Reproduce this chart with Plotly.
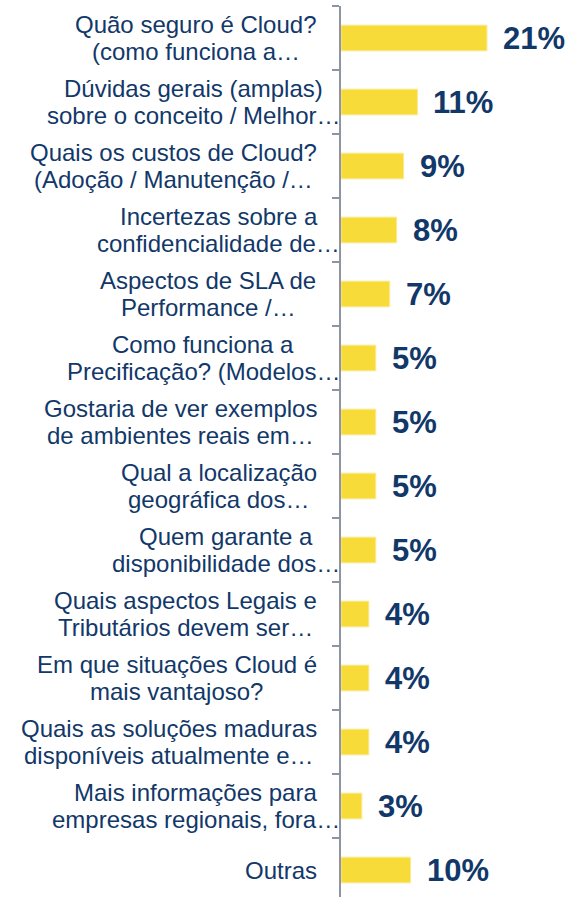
import unicodedata
import plotly.graph_objects as go

# ---------------- data ----------------
categories = [
    "Quão seguro é Cloud?<br>(como funciona a…",
    "Dúvidas gerais (amplas)<br>sobre o conceito / Melhor…",
    "Quais os custos de Cloud?<br>(Adoção / Manutenção /…",
    "Incertezas sobre a<br>confidencialidade de…",
    "Aspectos de SLA de<br>Performance /…",
    "Como funciona a<br>Precificação? (Modelos…",
    "Gostaria de ver exemplos<br>de ambientes reais em…",
    "Qual a localização<br>geográfica dos…",
    "Quem garante a<br>disponibilidade dos…",
    "Quais aspectos Legais e<br>Tributários devem ser…",
    "Em que situações Cloud é<br>mais vantajoso?",
    "Quais as soluções maduras<br>disponíveis atualmente e…",
    "Mais informações para<br>empresas regionais, fora…",
    "Outras",
]
values = [21, 11, 9, 8, 7, 5, 5, 5, 5, 4, 4, 4, 3, 10]
value_labels = [f"{v}%" for v in values]

# ---------------- layout / style ----------------
W, H = 571, 897
ML, MT = 341, 6
PLOT_W = W - ML
PX_PER_UNIT = 6.95
XMAX = PLOT_W / PX_PER_UNIT
BAND = 64.0
YMAX = -0.5 + (H - MT) / BAND

NAVY = "#123869"
BAR = "#F7DB38"
AXIS = "#8E94A6"
FONT = "Liberation Sans, Arial, sans-serif"
LABEL_SIZE = 24
LINE_GAP = 27.7
VALUE_SIZE = 31

# Arial advance widths (units per 1000 em)
ARIAL = {
    " ": 278, "(": 333, ")": 333, ",": 278, ".": 278, "/": 278, "?": 556,
    "…": 1000, "%": 889,
    "a": 556, "b": 556, "c": 500, "d": 556, "e": 556, "f": 278, "g": 556,
    "h": 556, "i": 222, "j": 222, "k": 500, "l": 222, "m": 833, "n": 556,
    "o": 556, "p": 556, "q": 556, "r": 333, "s": 500, "t": 278, "u": 556,
    "v": 500, "w": 722, "x": 500, "y": 500, "z": 500,
    "A": 667, "B": 667, "C": 722, "D": 722, "E": 667, "F": 611, "G": 778,
    "H": 722, "I": 278, "J": 500, "K": 667, "L": 556, "M": 833, "N": 722,
    "O": 778, "P": 667, "Q": 778, "R": 722, "S": 667, "T": 611, "U": 722,
    "V": 667, "W": 944, "X": 667, "Y": 667, "Z": 611,
}


def text_width(s, size):
    total = 0
    for ch in s:
        base = unicodedata.normalize("NFD", ch)[0]
        total += ARIAL.get(base, 556)
    return total / 1000.0 * size


fig = go.Figure(
    go.Bar(
        x=values,
        y=categories,
        orientation="h",
        width=0.4,
        marker=dict(color=BAR, line=dict(color="#FBE98C", width=1)),
        hoverinfo="skip",
    )
)

annotations = []
# value labels
for cat, v, lab in zip(categories, values, value_labels):
    annotations.append(dict(
        x=v, y=cat, xref="x", yref="y", xanchor="left", yanchor="middle",
        xshift=14, text=f"<b>{lab}</b>", showarrow=False,
        font=dict(family=FONT, size=VALUE_SIZE, color=NAVY),
    ))

# category labels (lines centred within each block; a truncated line may overhang)
for cat in categories:
    lines = cat.split("<br>")
    widths = [text_width(l, LABEL_SIZE) for l in lines]
    k = max(range(len(lines)), key=lambda i: widths[i])
    right = 340 if lines[k].endswith("…") else 317
    cx = right - widths[k] / 2.0
    n = len(lines)
    for i, line in enumerate(lines):
        annotations.append(dict(
            x=(cx - ML) / PLOT_W, y=cat, xref="paper", yref="y",
            xanchor="center", yanchor="middle",
            yshift=(n - 1) / 2.0 * LINE_GAP - i * LINE_GAP,
            text=line, showarrow=False,
            font=dict(family=FONT, size=LABEL_SIZE, color=NAVY),
        ))

fig.update_layout(
    width=W, height=H,
    margin=dict(l=ML, r=0, t=MT, b=0, pad=0),
    paper_bgcolor="white", plot_bgcolor="white",
    showlegend=False,
    font=dict(family=FONT, color=NAVY),
    annotations=annotations,
    xaxis=dict(range=[0, XMAX], showgrid=False, zeroline=False,
               showline=False, showticklabels=False, ticks=""),
    yaxis=dict(type="category", categoryorder="array", categoryarray=categories,
               range=[YMAX, -0.5], showgrid=False, zeroline=False,
               showline=True, linecolor=AXIS, linewidth=2,
               ticks="outside", tickson="boundaries", ticklen=7,
               tickwidth=2, tickcolor=AXIS, showticklabels=False),
)

fig.write_html(
    "out.html",
    config={"displayModeBar": False},
    post_script="document.body.style.margin='0';document.body.style.overflow='hidden';",
)
